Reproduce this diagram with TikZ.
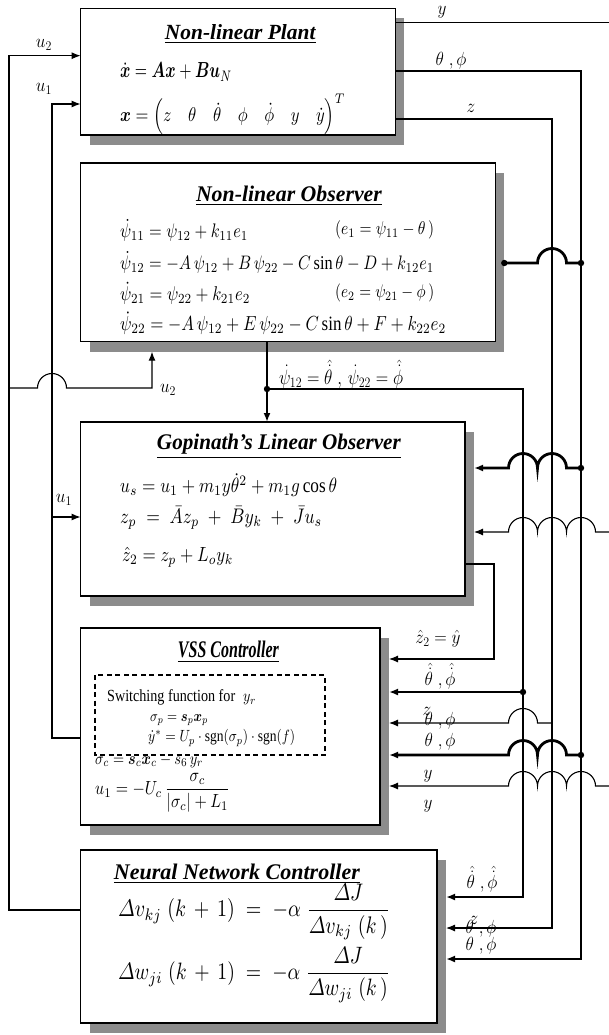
\documentclass[tikz,border=0pt]{standalone}
\usepackage{amsmath}
\usepackage{fontspec}
\setmainfont{Liberation Serif}
\usepackage{graphicx}
\usetikzlibrary{arrows.meta,shadows}
\newcommand{\fitto}[2]{\scalebox{1}[1.2]{\resizebox{#1}{!}{#2}}}
\newcommand{\boxtitle}[1]{\underline{\textbf{\textit{#1}}}}
\newcommand{\ttlfit}[3]{\resizebox{#1}{#2}{\boxtitle{#3}}}
\newcommand{\lab}[1]{\scalebox{1}[1.1]{#1}}
\begin{document}
\begin{tikzpicture}[x=1pt,y=-1pt,
  line join=miter,
  thn/.style={line width=1.1pt},
  thk/.style={line width=2.8pt},
  arr/.style={-{Latex[length=9pt,width=7pt]}},
  blk/.style={draw,line width=1.1pt,fill=white,inner sep=0pt,outer sep=0pt,anchor=north west,
     drop shadow={shadow xshift=9pt,shadow yshift=-10pt,opacity=1,fill=black!45}},
  ttl/.style={inner sep=0pt},
  eq/.style={inner sep=0pt,anchor=west},
  lbl/.style={inner sep=0pt,font=\fontsize{17.28}{20}\selectfont},
  dotn/.style={fill=black}
]
\useasboundingbox (0,0) rectangle (608,1035);

% ---------- blocks ----------
\node[blk,minimum width=314.7pt,minimum height=126.7pt] (plant) at (80.6,8.3) {};
\node[blk,minimum width=414.7pt,minimum height=178.7pt] (obs) at (80.6,163) {};
\node[blk,minimum width=384.4pt,minimum height=174pt] (gop) at (80.6,422) {};
\node[blk,minimum width=299.4pt,minimum height=197pt] (vss) at (80.6,628) {};
\node[blk,minimum width=356.4pt,minimum height=173pt] (nn) at (80.6,850) {};

% shadow edges
\coordinate (plantS) at ([xshift=9pt]plant.east);
\coordinate (obsS) at ([xshift=9pt]obs.east);
\coordinate (obsSB) at ([yshift=-10pt]obs.south);
\coordinate (gopS) at ([xshift=9pt]gop.east);
\coordinate (vssS) at ([xshift=9pt]vss.east);
\coordinate (nnS) at ([xshift=9pt]nn.east);

% ---------- plant text ----------
\node[ttl] (plantT) at (240.5,34) {\ttlfit{151pt}{15pt}{Non-linear Plant}};
\node[eq] (pe1) at (120,72) {\scalebox{1}[1.15]{\fitto{112pt}{$\dot{\boldsymbol{x}} = \boldsymbol{A}\boldsymbol{x} + \boldsymbol{B}\boldsymbol{u}_N$}}};
\node[eq] (pe2) at (120,114) {\fitto{225pt}{$\boldsymbol{x} = \left(z \quad \theta \quad \dot\theta \quad \phi \quad \dot\phi \quad y \quad \dot y\right)^{T}$}};

% ---------- observer text ----------
\node[ttl] (obsT) at (289,196) {\ttlfit{186pt}{15.5pt}{Non-linear Observer}};
\node[eq] (oe1) at (120,230) {\fitto{128pt}{$\dot\psi_{11} = \psi_{12} + k_{11}e_1$}};
\node[eq] (oe1b) at (335,230) {\fitto{99pt}{$(e_1 = \psi_{11} - \theta\,)$}};
\node[eq] (oe2) at (120,262) {\fitto{314pt}{$\dot\psi_{12} = -A\,\psi_{12} + B\,\psi_{22} - C\sin\theta - D + k_{12}e_1$}};
\node[eq] (oe3) at (120,293) {\fitto{130pt}{$\dot\psi_{21} = \psi_{22} + k_{21}e_2$}};
\node[eq] (oe3b) at (335,293) {\fitto{99pt}{$(e_2 = \psi_{21} - \phi\,)$}};
\node[eq] (oe4) at (120,323) {\fitto{326pt}{$\dot\psi_{22} = -A\,\psi_{12} + E\,\psi_{22} - C\sin\theta + F + k_{22}e_2$}};

% ---------- Gopinath text ----------
\node[ttl] (gopT) at (279,446) {\ttlfit{244pt}{15.5pt}{Gopinath's Linear Observer}};
\node[eq] (ge1) at (120,485) {\fitto{217pt}{$u_s = u_1 + m_1 y\dot\theta^{2} + m_1 g\cos\theta$}};
\node[eq] (ge2) at (120,518) {\fitto{202pt}{$z_p \;=\; \bar{A}z_p \;+\; \bar{B}y_k \;+\; \bar{J}u_s$}};
\node[eq] (ge3) at (122,557) {\fitto{111pt}{$\hat{z}_2 = z_p + L_o y_k$}};

% ---------- VSS text ----------
\node[ttl] (vssT) at (228.5,652) {\ttlfit{101pt}{16.5pt}{VSS Controller}};
\draw[line width=1.6pt,dash pattern=on 5pt off 3.5pt] (95,675) rectangle (325,755);
\node[eq] (sw) at (107,697) {\fitto{128pt}{Switching function for}};
\node[eq] (swy) at (243,700) {\fitto{13pt}{$y_r$}};
\node[eq] (sp) at (150,720) {\fitto{58pt}{$\sigma_p = \boldsymbol{s}_p\boldsymbol{x}_p$}};
\node[eq] (ys) at (148,738) {\fitto{147pt}{$\dot y^{*} = U_p\cdot\mathrm{sgn}\!\left(\sigma_p\right)\cdot\mathrm{sgn}\!\left(f\right)$}};
\node[eq] (sc) at (95,761) {\fitto{108pt}{$\sigma_c = \boldsymbol{s}_c\boldsymbol{x}_c - s_6\,y_r$}};
\node[eq] (u1e) at (95,793) {\fitto{135pt}{$u_1 = -U_c\,\dfrac{\sigma_c}{\left|\sigma_c\right| + L_1}$}};

% ---------- NN text ----------
\node[ttl] (nnT) at (237,874) {\ttlfit{246pt}{15.5pt}{Neural Network Controller}};
\node[eq] (ne1) at (118,912) {\fitto{272pt}{$\varDelta v_{kj}\;(k\,+\,1)\;=\;-\alpha\;\dfrac{\varDelta J}{\varDelta v_{kj}\;(k\,)}$}};
\node[eq] (ne2) at (118,975) {\fitto{272pt}{$\varDelta w_{ji}\;(k\,+\,1)\;=\;-\alpha\;\dfrac{\varDelta J}{\varDelta w_{ji}\;(k\,)}$}};

% ---------- left side: u1, u2 ----------
\coordinate (u2c) at (9,55.7);
\coordinate (u2b) at (9,910);
\coordinate (u2j) at (9,388);
\coordinate (u2o) at (152,388);
\coordinate (u1c) at (52,104);
\coordinate (u1b) at (52,738);
\coordinate (u1j) at (52,517);
\draw[thn,arr] (nn.west |- u2b) -- (u2b) -- (u2c) -- (plant.west |- u2c);
\draw[thn,arr] (u2j) -- (37.5,388) arc[start angle=180,end angle=0,radius=14.5pt] -- (u2o) -- (u2o |- obsSB);
\draw[thn,arr] (vss.west |- u1b) -- (u1b) -- (u1c) -- (plant.west |- u1c);
\draw[thn,arr] (u1j) -- (gop.west |- u1j);

% ---------- plant outputs ----------
\coordinate (yTR) at (612,22.7);
\coordinate (yMR) at (612,532);
\coordinate (yBR) at (612,786);
\draw[thn] (plant.east |- yTR) -- (yTR) -- (yBR);
\coordinate (v3t) at (581,71);
\coordinate (v3b) at (581,959);
\draw[thk,arr] (plant.east |- v3t) -- (v3t) -- (v3b) -- (nnS |- v3b);
\coordinate (v2t) at (552,119);
\coordinate (v2b) at (552,928);
\draw[thn,arr] (plant.east |- v2t) -- (v2t) -- (v2b) -- (nnS |- v2b);

% ---------- observer outputs ----------
\coordinate (odot) at (267,389);
\coordinate (v1t) at (523,389);
\coordinate (v1b) at (523,897);
\draw[thk,arr] (obs.south -| odot) -- (gop.north -| odot);
\draw[thk,arr] (odot) -- (v1t) -- (v1b) -- (nnS |- v1b);

% ---------- feedback into observer ----------
\coordinate (v3o) at (581,263);
\draw[thk] (v3o) -- (566.5,263) arc[start angle=0,end angle=180,radius=14.5pt] -- (obsS |- v3o);

% ---------- into Gopinath ----------
\coordinate (v3g) at (581,468);
\draw[thk,arr] (v3g) -- (566.5,468) arc[start angle=0,end angle=180,radius=14.5pt] arc[start angle=0,end angle=180,radius=14.5pt] -- (gopS |- v3g);
\draw[thn,arr] (yMR) -- (595.5,532) arc[start angle=0,end angle=180,radius=14.5pt] arc[start angle=0,end angle=180,radius=14.5pt] arc[start angle=0,end angle=180,radius=14.5pt] -- (gopS |- yMR);

% ---------- into VSS ----------
\coordinate (z2a) at (494,564);
\coordinate (z2b) at (494,659);
\draw[thn,arr] (gop.east |- z2a) -- (z2a) -- (z2b) -- (vssS |- z2b);
\coordinate (v1v) at (523,692);
\draw[thk,arr] (v1v) -- (vssS |- v1v);
\coordinate (v2v) at (552,723);
\draw[thn,arr] (v2v) -- (537.5,723) arc[start angle=0,end angle=180,radius=14.5pt] -- (vssS |- v2v);
\coordinate (v3v) at (581,755);
\draw[thk,arr] (v3v) -- (566.5,755) arc[start angle=0,end angle=180,radius=14.5pt] arc[start angle=0,end angle=180,radius=14.5pt] -- (vssS |- v3v);
\draw[thn,arr] (yBR) -- (595.5,786) arc[start angle=0,end angle=180,radius=14.5pt] arc[start angle=0,end angle=180,radius=14.5pt] arc[start angle=0,end angle=180,radius=14.5pt] -- (vssS |- yBR);

% ---------- junction dots ----------
\fill[dotn] (odot) circle[radius=3.2pt];
\fill[dotn] (v3o) circle[radius=3.2pt];
\fill[dotn] (obsS |- v3o) circle[radius=3.2pt];
\fill[dotn] (v3g) circle[radius=3.2pt];
\fill[dotn] (v1v) circle[radius=3.2pt];
\fill[dotn] (v3v) circle[radius=3.2pt];

% ---------- signal labels ----------
\node[lbl] (Ly) at (442,12) {\lab{$y$}};
\node[lbl] (Ltp) at (451,61) {\lab{$\theta\;,\phi$}};
\node[lbl] (Lz) at (471,108) {\lab{$z$}};
\node[lbl] (Lu2) at (44,45) {\lab{$u_2$}};
\node[lbl] (Lu1) at (44,89) {\lab{$u_1$}};
\node[lbl] (Lpsi) at (341,374) {\fitto{124pt}{$\dot\psi_{12} = \hat{\dot\theta}\;,\,\dot\psi_{22} = \hat{\dot\phi}$}};
\node[lbl] (Lu2b) at (168,390) {\lab{$u_2$}};
\node[lbl] (Lu1b) at (64,500) {\lab{$u_1$}};
\node[lbl] (Lz2) at (438,639) {\lab{$\hat z_2 = \hat y$}};
\node[lbl] (Lvd) at (440,676) {\lab{$\hat{\dot\theta}\;,\hat{\dot\phi}$}};
\node[lbl] (Lvz) at (427,711) {\lab{$z$}};
\node[lbl] (Lvtp1) at (440,721) {\lab{$\theta\;,\phi$}};
\node[lbl] (Lvtp2) at (440,742) {\lab{$\theta\;,\phi$}};
\node[lbl] (Lvy1) at (428,776) {\lab{$y$}};
\node[lbl] (Lvy2) at (428,806) {\lab{$y$}};
\node[lbl] (Lnd) at (482,879) {\lab{$\hat{\dot\theta}\;,\hat{\dot\phi}$}};
\node[lbl] (Lnz) at (474,920) {\lab{$z$}};
\node[lbl] (Lntp1) at (481,929) {\lab{$\theta\;,\phi$}};
\node[lbl] (Lntp2) at (481,946) {\lab{$\theta\;,\phi$}};
\end{tikzpicture}
\end{document}
